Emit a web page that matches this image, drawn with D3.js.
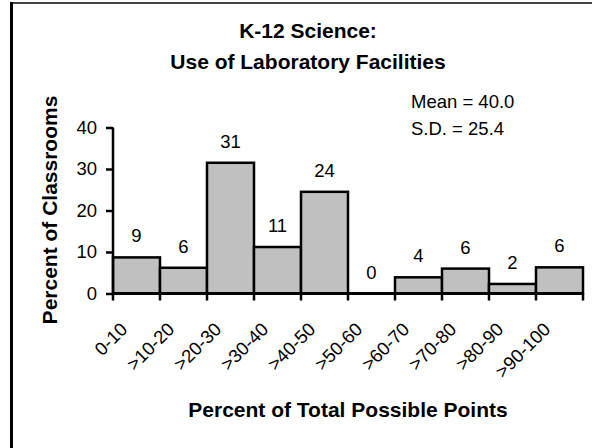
<!DOCTYPE html>
<html><head><meta charset="utf-8">
<script src="https://cdn.jsdelivr.net/npm/d3@7"></script>
<style>body{margin:0;background:#fff}svg{display:block;font-family:"Liberation Sans",Arial,sans-serif}</style>
</head><body><svg id="c" width="592" height="448"></svg>
<script>
const categories = ["0-10",">10-20",">20-30",">30-40",">40-50",">50-60",">60-70",">70-80",">80-90",">90-100"];
const values = [8.7, 6.2, 31.5, 11.2, 24.5, 0, 3.9, 6.0, 2.3, 6.3];
const valueLabels = ["9","6","31","11","24","0","4","6","2","6"];
const yTicks = [0, 10, 20, 30, 40];
const titleLines = ["K-12 Science:", "Use of Laboratory Facilities"];
const statsLines = ["Mean = 40.0", "S.D. = 25.4"];
const xTitle = "Percent of Total Possible Points";
const yTitle = "Percent of Classrooms";

const svg = d3.select("#c");
const m = {left:113, right:583, top:127.5, bottom:293.5};
const x = d3.scaleBand().domain(categories).range([m.left, m.right]).padding(0);
const y = d3.scaleLinear().domain([0, 40]).range([m.bottom, m.top]);

// frame (left and top edges of the enclosing box)
svg.append("line").attr("x1",10).attr("x2",592).attr("y1",3).attr("y2",3)
  .attr("stroke","#444").attr("stroke-width",2);
svg.append("line").attr("x1",11.5).attr("x2",11.5).attr("y1",2).attr("y2",448)
  .attr("stroke","#000").attr("stroke-width",3);

svg.append("g").selectAll("text").data(titleLines).join("text")
  .attr("x",308).attr("y",(d,i)=>38+i*31).attr("text-anchor","middle")
  .attr("font-weight","bold").attr("font-size",21).text(d=>d);

svg.append("g").selectAll("text").data(statsLines).join("text")
  .attr("x",411).attr("y",(d,i)=>108+i*27)
  .attr("font-size",18.5).text(d=>d);

// bars
svg.append("g").selectAll("rect").data(values).join("rect")
  .attr("x",(d,i)=>x(categories[i])).attr("width",x.bandwidth())
  .attr("y",d=>y(d)).attr("height",d=>y(0)-y(d))
  .attr("fill","#c0c0c0").attr("stroke","#000").attr("stroke-width",2.5);

svg.append("g").selectAll("text").data(values).join("text")
  .attr("x",(d,i)=>x(categories[i])+x.bandwidth()/2)
  .attr("y",d=>y(d)-15).attr("text-anchor","middle")
  .attr("font-size",18.5).text((d,i)=>valueLabels[i]);

// y axis
const ya = svg.append("g").attr("transform",`translate(${m.left},0)`)
  .call(d3.axisLeft(y).tickValues(yTicks).tickSize(7).tickPadding(9).tickFormat(d3.format("d")));
ya.select(".domain").attr("stroke","#000").attr("stroke-width",2.5).attr("d",`M0,${m.bottom}V${m.top}`);
ya.selectAll(".tick line").attr("stroke","#000").attr("stroke-width",2.5);
ya.selectAll(".tick text").attr("font-size",18.5).attr("font-family","Liberation Sans, Arial, sans-serif").attr("fill","#000");

// x axis
const edges = d3.range(categories.length+1).map(i=>m.left + i*x.bandwidth());
const xa = svg.append("g");
xa.append("line").attr("x1",m.left).attr("x2",m.right).attr("y1",m.bottom).attr("y2",m.bottom)
  .attr("stroke","#000").attr("stroke-width",3);
xa.selectAll("line.tk").data(edges).join("line").attr("class","tk")
  .attr("x1",d=>d).attr("x2",d=>d).attr("y1",m.bottom).attr("y2",m.bottom+7)
  .attr("stroke","#000").attr("stroke-width",2.5);
xa.selectAll("text").data(categories).join("text")
  .attr("transform",d=>`translate(${x(d)+x.bandwidth()/2-8},${m.bottom+37}) rotate(-45)`)
  .attr("text-anchor","end").attr("font-size",18.5).text(d=>d);

svg.append("text").attr("x",348).attr("y",417).attr("text-anchor","middle")
  .attr("font-weight","bold").attr("font-size",21).text(xTitle);
svg.append("text").attr("transform","translate(57,210) rotate(-90)").attr("text-anchor","middle")
  .attr("font-weight","bold").attr("font-size",21).text(yTitle);
</script></body></html>
